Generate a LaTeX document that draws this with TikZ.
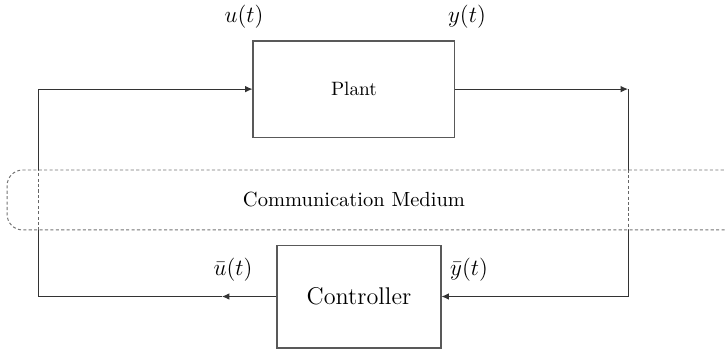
\documentclass[tikz,border=0pt]{standalone}
\usetikzlibrary{shapes,arrows,arrows.meta,positioning}

\begin{document}
\begin{tikzpicture}[
    >=latex',
    every node/.style={align=center}
]
\clip (0,0) rectangle (13.2,6.4);

% Define styles
\tikzstyle{block} = [rectangle, draw=black!65, line width=0.6pt, fill=white]
\tikzstyle{line} = [draw, black!80, line width=0.5pt, -{Latex[length=3.8pt,width=3.4pt]}]
\tikzstyle{wire} = [draw, black!80, line width=0.5pt]
\tikzstyle{crossing} = [draw, black!60, line width=0.5pt, dash pattern=on 1.6pt off 1.2pt]
\tikzstyle{medium} = [draw=black!55, line width=0.5pt, dash pattern=on 1.6pt off 1.2pt, rounded corners=8pt]
\tikzstyle{signal} = [inner sep=1pt, font=\large]

% Nodes
\node [block, minimum width=3.67cm, minimum height=1.75cm] (plant) at (6.436,4.78) {Plant};
\node [block, minimum width=2.98cm, minimum height=1.87cm, font=\fontsize{12.5}{14}\selectfont] (controller) at (6.527,1.009) {Controller};
\node [medium, minimum width=14cm, minimum height=1.09cm] (mediumbox) at (7.13,2.764) {};
\node [font=\fontsize{10.6}{12}\selectfont] (medium) at (6.436,2.764) {Communication Medium};

% Signal labels
\node [signal] (ulabel) at (4.436,6.09) {$u(t)$};
\node [signal] (ylabel) at (8.49,6.09) {$y(t)$};
\node [signal] (ubarlabel) at (4.236,1.5) {$\bar{u}(t)$};
\node [signal] (ybarlabel) at (8.527,1.5) {$\bar{y}(t)$};

% Corners of the loop
\coordinate (tl) at (0.691,4.78);
\coordinate (tr) at (11.418,4.78);
\coordinate (bl) at (0.691,1.009);
\coordinate (br) at (11.418,1.009);
\coordinate (umid) at (4.036,1.009);

% Paths
\path [line] (plant.east) -- (tr);
\path [wire] (tr) -- (tr |- mediumbox.north);
\path [crossing] (tr |- mediumbox.north) -- (br |- mediumbox.south);
\path [line] (br |- mediumbox.south) -- (br) -- (controller.east);
\path [line] (controller.west) -- (umid);
\path [wire] (umid) -- (bl) -- (bl |- mediumbox.south);
\path [crossing] (bl |- mediumbox.south) -- (tl |- mediumbox.north);
\path [line] (tl |- mediumbox.north) -- (tl) -- (plant.west);

\end{tikzpicture}
\end{document}
